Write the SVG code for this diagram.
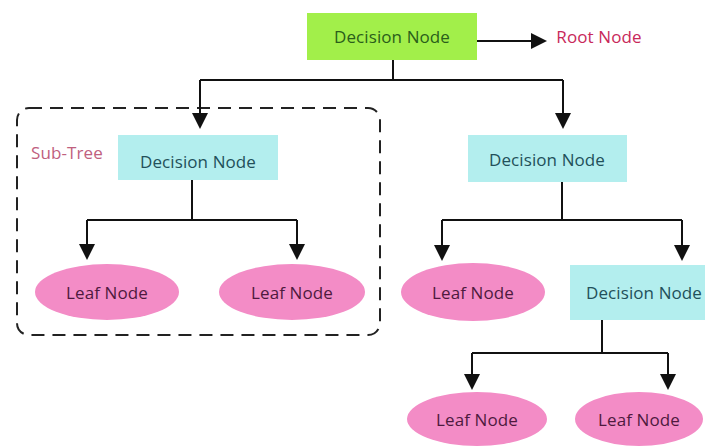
<svg xmlns="http://www.w3.org/2000/svg" width="705" height="447" viewBox="0 0 705 447">
<defs>
<style>
text{font-family:"Open Sans","Liberation Sans",sans-serif;font-size:17px;text-anchor:middle;dominant-baseline:central;letter-spacing:0.1px}
.dec{fill:#b3eeee}
.dt{fill:#22505a}
.leaf{fill:#f38cc6}
.lt{fill:#4e1a3e}
.ln{stroke:#111;stroke-width:2;fill:none}
</style>
<marker id="ah" markerWidth="8" markerHeight="8" refX="7" refY="4" orient="auto" markerUnits="strokeWidth">
<path d="M0,0 L8,4 L0,8 Z" fill="#111"/>
</marker>
</defs>
<rect width="705" height="447" fill="#fff"/>
<g id="subtree">
<rect x="17" y="108" width="363" height="227" rx="12" fill="none" stroke="#222" stroke-width="2" stroke-dasharray="13,8"/>
<text x="67" y="152" fill="#c0607e">Sub-Tree</text>
</g>
<g id="connectors">
<line class="ln" x1="477" y1="41" x2="545" y2="41" marker-end="url(#ah)"/>
<path class="ln" d="M393,60 V80 M200,80 H563"/>
<line class="ln" x1="200" y1="80" x2="200" y2="127" marker-end="url(#ah)"/>
<line class="ln" x1="563" y1="80" x2="563" y2="127" marker-end="url(#ah)"/>
<path class="ln" d="M192,180 V220 M87,220 H297"/>
<line class="ln" x1="87" y1="220" x2="87" y2="258" marker-end="url(#ah)"/>
<line class="ln" x1="297" y1="220" x2="297" y2="258" marker-end="url(#ah)"/>
<path class="ln" d="M562,182 V220 M442,220 H682"/>
<line class="ln" x1="442" y1="220" x2="442" y2="259" marker-end="url(#ah)"/>
<line class="ln" x1="682" y1="220" x2="682" y2="259" marker-end="url(#ah)"/>
<path class="ln" d="M602,320 V353 M472,353 H668"/>
<line class="ln" x1="472" y1="353" x2="472" y2="388" marker-end="url(#ah)"/>
<line class="ln" x1="668" y1="353" x2="668" y2="388" marker-end="url(#ah)"/>
</g>
<g id="root">
<rect x="307" y="13" width="170" height="47" fill="#a2ef4a"/>
<text x="392" y="36" fill="#2a5e1a">Decision Node</text>
</g>
<g id="rootlabel">
<text x="599" y="36" fill="#c8285a">Root Node</text>
</g>
<g id="dec-left">
<rect x="118" y="135" width="160" height="45" class="dec"/>
<text x="198" y="161" class="dt">Decision Node</text>
</g>
<g id="dec-right">
<rect x="468" y="135" width="159" height="47" class="dec"/>
<text x="547" y="159" class="dt">Decision Node</text>
</g>
<g id="dec-lower">
<rect x="570" y="265" width="140" height="55" class="dec"/>
<text x="644" y="292" class="dt">Decision Node</text>
</g>
<g id="leaf1">
<ellipse cx="107" cy="292" rx="72" ry="28" class="leaf"/>
<text x="107" y="292" class="lt">Leaf Node</text>
</g>
<g id="leaf2">
<ellipse cx="292" cy="292" rx="73" ry="28" class="leaf"/>
<text x="292" y="292" class="lt">Leaf Node</text>
</g>
<g id="leaf3">
<ellipse cx="473" cy="292" rx="72" ry="29" class="leaf"/>
<text x="473" y="292" class="lt">Leaf Node</text>
</g>
<g id="leaf4">
<ellipse cx="477" cy="419" rx="70" ry="27" class="leaf"/>
<text x="477" y="419" class="lt">Leaf Node</text>
</g>
<g id="leaf5">
<ellipse cx="639" cy="419" rx="64" ry="27" class="leaf"/>
<text x="639" y="419" class="lt">Leaf Node</text>
</g>
</svg>
